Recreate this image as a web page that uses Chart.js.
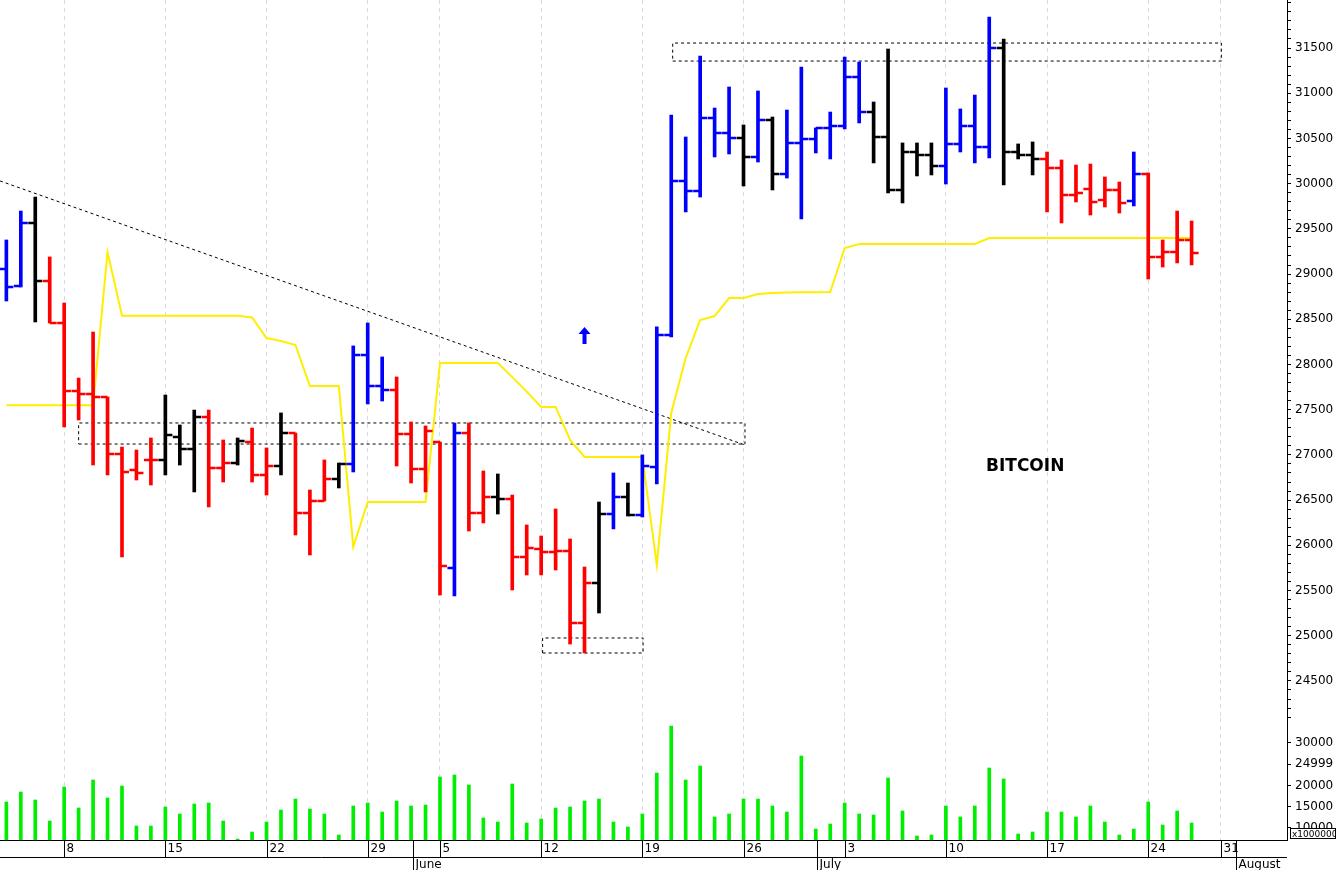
<!DOCTYPE html>
<html><head><meta charset="utf-8">
<script src="https://cdn.jsdelivr.net/npm/chart.js@4"></script>
<style>body{margin:0;background:#fff;overflow:hidden}canvas{position:absolute;left:0}</style>
</head><body>
<canvas id="p" width="1336" height="718" style="top:0"></canvas>
<canvas id="v" width="1336" height="152" style="top:718px"></canvas>
<script>
const opens=[29056,28868,29565,28923,28459,27707,27673,27640,27010,26833,26944,26944,27198,27065,27419,26855,26910,27143,26778,26877,27242,26357,26490,26734,26899,28105,27762,27718,27231,26844,27143,25749,27242,26357,26534,26512,25871,25959,25926,25937,25141,25583,26346,26534,26335,26866,28326,30029,29918,30726,30560,30505,30295,30704,30107,30450,30494,30616,30638,31179,30792,30516,29930,30350,30317,30195,30439,30638,30405,31500,30350,30317,30273,30173,29874,29941,29819,29930,29808,30107,29189,29244,29377];
const highs=[29377,29697,29852,29189,28680,27850,28359,27640,27087,27054,27187,27662,27331,27496,27496,27165,27187,27297,27077,27464,27242,26612,26944,26910,28205,28459,28083,27862,27364,27320,27143,27353,27353,26822,26789,26556,26225,26103,26402,26070,25760,26479,26800,26689,27000,28415,30759,30516,31411,30836,31069,30649,31025,30737,30814,31290,30616,30792,31400,31345,30903,31489,30450,30450,30450,31058,30826,30980,31843,31600,30439,30461,30350,30262,30206,30217,30074,30018,30350,30118,29377,29697,29587];
const lows=[28702,28857,28470,28459,27309,27386,26888,26778,25871,26722,26667,26778,26888,26590,26424,26700,26888,26700,26556,26778,26114,25893,26490,26634,26811,27563,27596,26877,26689,26590,25450,25439,26158,26247,26346,25506,25672,25672,25727,24908,24809,25251,26181,26324,26313,26678,28304,29687,29852,30295,30328,29974,30239,29930,30062,29609,30339,30273,30605,30671,30229,29897,29786,30085,30096,29996,30350,30229,30284,29985,30273,30096,29687,29565,29797,29653,29742,29675,29753,28945,29078,29123,29101];
const closes=[28857,29565,28923,28459,27707,27673,27640,27010,26811,26800,26944,27220,27065,27419,26855,26910,27154,26778,26877,27242,26357,26490,26734,26899,28105,27762,27718,27231,26844,27264,25771,27242,26357,26534,26512,25871,25970,25926,25937,25141,25583,26346,26534,26335,26877,28326,30029,29918,30726,30560,30505,30295,30704,30107,30450,30494,30616,30638,31179,30792,30516,29930,30350,30317,30195,30439,30638,30405,31500,30350,30317,30273,30173,29874,29897,29797,29930,29786,30107,29189,29244,29377,29233];
const barColors="bbkrrrrrrrrkkkrrkrrkrrrkbbbrrrrbrrkrrrrrrkbkbbbbbbbkbkbbbbbbkkkkkbbbbkkkrrrrrrbrrrr";
const trendLine=[27550,27550,27550,27550,27550,27550,27550,29244,28540,28540,28540,28540,28540,28540,28540,28540,28540,28520,28293,28260,28215,27762,27762,27762,25982,26479,26479,26479,26479,26479,28016,28016,28016,28016,28016,27860,27700,27530,27530,27165,26977,26977,26977,26977,26977,25783,27464,28072,28492,28536,28735,28735,28780,28790,28795,28800,28800,28802,29288,29332,29332,29332,29332,29332,29332,29332,29332,29332,29399,29399,29399,29399,29399,29399,29399,29399,29399,29399,29399,29399,29399,29399,29399];
const volumes=[16117,18470,16588,11647,19647,14706,21294,17059,19882,10470,10470,14941,13294,15647,15882,11647,7400,9060,11410,14235,16823,14470,13300,8350,15180,15880,13760,16350,15180,15400,22000,22470,20120,12350,11410,20350,11180,12120,14700,14940,16350,16820,11410,10240,13300,22940,34000,21290,24590,12590,13300,16820,16820,15180,13760,26940,9760,10940,15880,13300,13060,21760,14000,8120,8350,15180,12590,15180,24120,21530,8590,9060,13760,13760,12590,15180,11410,8350,9760,16120,10700,14000,11180];
const dayTickIdx=[4,11,18,25,30,37,44,51,58,65,72,79,84];
const dayTickLabels=["8","15","22","29","5","12","19","26","3","10","17","24","31"];
const monthIdx=[28.1,56.1,85.1];
const monthLabels=["June","July","August"];
const volTicks=[10000,15000,20000,24999,30000];
const downTrend=[[-0.44,30030],[51.1,27109]];
const boxes=[[5.0,51.1,27120,27353],[46.1,84.06,31356,31555],[37.1,44.05,24809,24975]];
const XMIN=-0.44, XMAX=88.6;
const col={b:'#0000ff',r:'#ff0000',k:'#000000'};
const FONT='"DejaVu Sans", sans-serif';
const idx=opens.map((_,i)=>i);

function boxData(b){return [{x:b[0],y:b[2]},{x:b[1],y:b[2]},{x:b[1],y:b[3]},{x:b[0],y:b[3]},{x:b[0],y:b[2]}];}
const dashLine={type:'line',borderColor:'#000',borderWidth:1,borderDash:[3,3],pointRadius:0,fill:false,tension:0};
const noPad=s=>{s.paddingTop=0;s.paddingBottom=0;s.paddingLeft=0;s.paddingRight=0;};

const xScale=(show)=>({type:'linear',min:XMIN,max:XMAX,offset:false,
  afterBuildTicks:s=>{s.ticks=dayTickIdx.map(v=>({value:v}));},
  ticks:{display:false},border:{display:false,dash:[4,4]},
  grid:{color:'#d8d8e8',drawTicks:false,offset:false},
  afterFit:s=>{s.height=show?30:0;noPad(s);}});

const ohlcPlugin={id:'ohlc',afterDatasetsDraw(ch){
  const x=ch.scales.x,y=ch.scales.y,c=ch.ctx;c.save();c.lineWidth=2.5;
  idx.forEach(i=>{const px=x.getPixelForValue(i);c.strokeStyle=col[barColors[i]];
    c.beginPath();c.moveTo(px-7,y.getPixelForValue(opens[i]));c.lineTo(px,y.getPixelForValue(opens[i]));
    c.moveTo(px,y.getPixelForValue(closes[i]));c.lineTo(px+7,y.getPixelForValue(closes[i]));c.stroke();});
  const ax=x.getPixelForValue(40),ay=y.getPixelForValue(28315);
  c.fillStyle='#0000ff';c.beginPath();c.moveTo(ax,ay-9);c.lineTo(ax+6,ay-2);c.lineTo(ax-6,ay-2);c.closePath();c.fill();
  c.fillRect(ax-2,ay-3,4,11);
  c.fillStyle='#000';c.font='bold 17px '+FONT;c.textBaseline='middle';c.fillText('BITCOIN',986,467);
  c.restore();}};

new Chart(document.getElementById('p'),{
  data:{datasets:[
    {type:'bar',data:idx.map(i=>({x:i,y:[lows[i],highs[i]]})),backgroundColor:idx.map(i=>col[barColors[i]]),barThickness:3,borderWidth:0},
    {type:'line',data:idx.map(i=>({x:i,y:trendLine[i]})),borderColor:'#ffee00',borderWidth:2,pointRadius:0,tension:0},
    Object.assign({data:downTrend.map(p=>({x:p[0],y:p[1]}))},dashLine),
    ...boxes.map(b=>Object.assign({data:boxData(b)},dashLine))
  ]},
  options:{responsive:false,animation:false,events:[],plugins:{legend:{display:false},tooltip:{enabled:false}},
    layout:{padding:0},
    scales:{x:xScale(false),
      y:{position:'right',min:24090,max:32031,
        afterBuildTicks:s=>{const t=[];for(let v=24100;v<=32000;v+=100)t.push({value:v});s.ticks=t;},
        afterFit:s=>{s.width=49;noPad(s);},
        ticks:{autoSkip:false,color:'#000',font:{family:FONT,size:12},padding:4,callback:v=>(v%500===0&&v<32000)?String(v):''},
        grid:{drawOnChartArea:false,tickLength:4,color:'#000'},border:{color:'#000'}}}},
  plugins:[ohlcPlugin]});

const axisPlugin={id:'xaxis',afterDraw(ch){
  const x=ch.scales.x,c=ch.ctx,b=ch.chartArea.bottom;c.save();
  c.strokeStyle='#000';c.lineWidth=1;c.fillStyle='#000';c.font='12px '+FONT;c.textBaseline='top';
  c.beginPath();c.moveTo(0,b+0.5);c.lineTo(1287,b+0.5);c.moveTo(0,b+17.5);c.lineTo(1287,b+17.5);c.stroke();
  dayTickIdx.forEach((v,k)=>{const px=Math.round(x.getPixelForValue(v))+0.5;c.beginPath();c.moveTo(px,b);c.lineTo(px,b+17);c.stroke();c.fillText(dayTickLabels[k],px+2,b+3);});
  monthIdx.forEach((v,k)=>{const px=Math.round(x.getPixelForValue(v))+0.5;c.beginPath();c.moveTo(px,b);c.lineTo(px,b+30);c.stroke();c.fillText(monthLabels[k],px+2,b+19);});
  c.font='9px '+FONT;c.fillStyle='#fff';c.fillRect(1290,b-12,46,11);c.fillStyle='#000';c.strokeRect(1290.5,b-11.5,45,10);c.fillText('x1000000',1292,b-10);
  c.restore();}};

new Chart(document.getElementById('v'),{
  type:'bar',
  data:{datasets:[{data:idx.map(i=>({x:i,y:volumes[i]})),backgroundColor:'#00ee00',barThickness:3,borderWidth:0}]},
  options:{responsive:false,animation:false,events:[],plugins:{legend:{display:false},tooltip:{enabled:false}},
    layout:{padding:0},
    scales:{x:xScale(true),
      y:{position:'right',min:7176,max:35880,
        afterBuildTicks:s=>{s.ticks=volTicks.map(v=>({value:v}));},
        afterFit:s=>{s.width=49;noPad(s);},
        ticks:{autoSkip:false,color:'#000',font:{family:FONT,size:12},padding:4,callback:v=>String(v)},
        grid:{drawOnChartArea:false,tickLength:4,color:'#000'},border:{color:'#000'}}}},
  plugins:[axisPlugin]});
</script></body></html>
